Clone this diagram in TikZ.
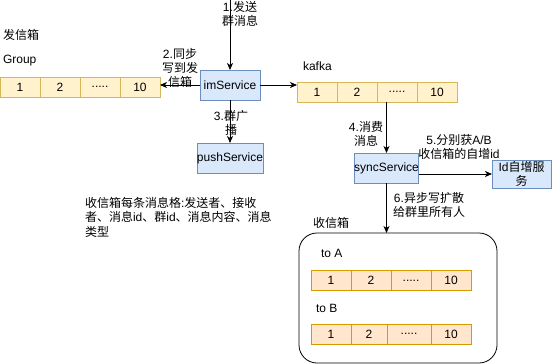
\documentclass[tikz,border=0pt]{standalone}
\usepackage{fontspec}
\setmainfont{Liberation Sans}
\newfontfamily\cjk{Noto Sans CJK SC}
\newcommand\zh[1]{{\cjk #1}}
\usetikzlibrary{arrows.meta}
\definecolor{svcfill}{HTML}{DAE8FC}
\definecolor{svcline}{HTML}{6C8EBF}
\definecolor{ylfill}{HTML}{FFF2CC}
\definecolor{ylline}{HTML}{D6B656}
\definecolor{orfill}{HTML}{FFE6CC}
\definecolor{orline}{HTML}{D79B00}
\begin{document}
\begin{tikzpicture}[x=1pt,y=-1pt,
  every node/.style={font=\fontsize{12}{14}\selectfont, inner sep=0pt, outer sep=0pt},
  svc/.style={draw=svcline, fill=svcfill, minimum width=60pt, minimum height=30pt, line width=0.8pt, align=center},
  cellY/.style={draw=ylline, fill=ylfill, minimum width=40pt, minimum height=20pt, line width=0.8pt},
  cellO/.style={draw=orline, fill=orfill, minimum width=40pt, minimum height=20pt, line width=0.8pt},
  lbl/.style={align=center},
  txt/.style={anchor=west},
  arr/.style={draw=black, line width=0.8pt, -{Stealth[length=7pt,width=6pt,inset=2pt]}}]
\useasboundingbox (0,0) rectangle (552,364);
% outbox
\node[txt] (outlbl) at (3,35) {\zh{发信箱}};
\node[txt] (grouplbl) at (3,61) {Group};
\node[cellY] (o1) at (20,87) {1};
\node[cellY] (o2) at (60,87) {2};
\node[cellY] (o3) at (100,87) {.....};
\node[cellY] (o4) at (140,87) {10};
% services
\node[svc] (im) at (230,85) {imService};
\node[svc] (push) at (230,158) {pushService};
% kafka
\node[txt] (kafkalbl) at (303,66) {kafka};
\node[cellY] (k1) at (317,92) {1};
\node[cellY] (k2) at (357,92) {2};
\node[cellY] (k3) at (397,92) {.....};
\node[cellY] (k4) at (437,92) {10};
\node[svc, minimum width=61pt] (sync) at (386.5,168) {syncService};
\node[svc, minimum width=59pt, minimum height=28pt] (idsvc) at (521.5,174) {Id\zh{自增服}\\\zh{务}};
% note
\node[anchor=north west, align=left, font=\fontsize{12}{14.5}\selectfont] (note) at (85,197)
  {\zh{收信箱每条消息格}:\zh{发送者、接收}\\\zh{者、消息}id\zh{、群}id\zh{、消息内容、消息}\\\zh{类型}};
% inbox
\node[txt] (inlbl) at (313,223) {\zh{收信箱}};
\node[draw=black, line width=0.8pt, rounded corners=18pt, minimum width=198pt, minimum height=130pt] (inbox) at (398,298) {};
\node[txt] (toa) at (321,253) {to A};
\node[cellO] (a1) at (331,280.5) {1};
\node[cellO] (a2) at (371,280.5) {2};
\node[cellO] (a3) at (411,280.5) {.....};
\node[cellO] (a4) at (451,280.5) {10};
\node[txt] (tob) at (316,308) {to B};
\node[cellO] (b1) at (331,334) {1};
\node[cellO, minimum width=36pt] (b2) at (369,334) {2};
\node[cellO, minimum width=44pt] (b3) at (409,334) {.....};
\node[cellO] (b4) at (451,334) {10};
% connectors
\coordinate (src) at (230,0);
\draw[arr] (src) -- (im.north);
\node[lbl] (l1) at (240,14) {1.\zh{发送}\\\zh{群消息}};
\draw[arr] (im.west) -- (o4.east |- im.west);
\node[lbl] (l2) at (180,68) {2.\zh{同步}\\\zh{写到发}\\\zh{信箱}};
\draw[arr] (im.east) -- (im.east -| k1.west);
\draw[arr] (im.south) -- (push.north);
\node[lbl] (l3) at (231,123) {3.\zh{群广}\\\zh{播}};
\draw[arr] (sync.north |- k3.south) -- (sync.north);
\node[lbl] (l4) at (366,134) {4.\zh{消费}\\\zh{消息}};
\draw[arr] (sync.east |- idsvc.west) -- (idsvc.west);
\node[lbl] (l5) at (459,147) {5.\zh{分别获}A/B\\\zh{收信箱的自增}id};
\draw[arr] (sync.south) -- (sync.south |- inbox.north);
\node[lbl] (l6) at (429,204.5) {6.\zh{异步写扩散}\\\zh{给群里所有人}};
\end{tikzpicture}
\end{document}
